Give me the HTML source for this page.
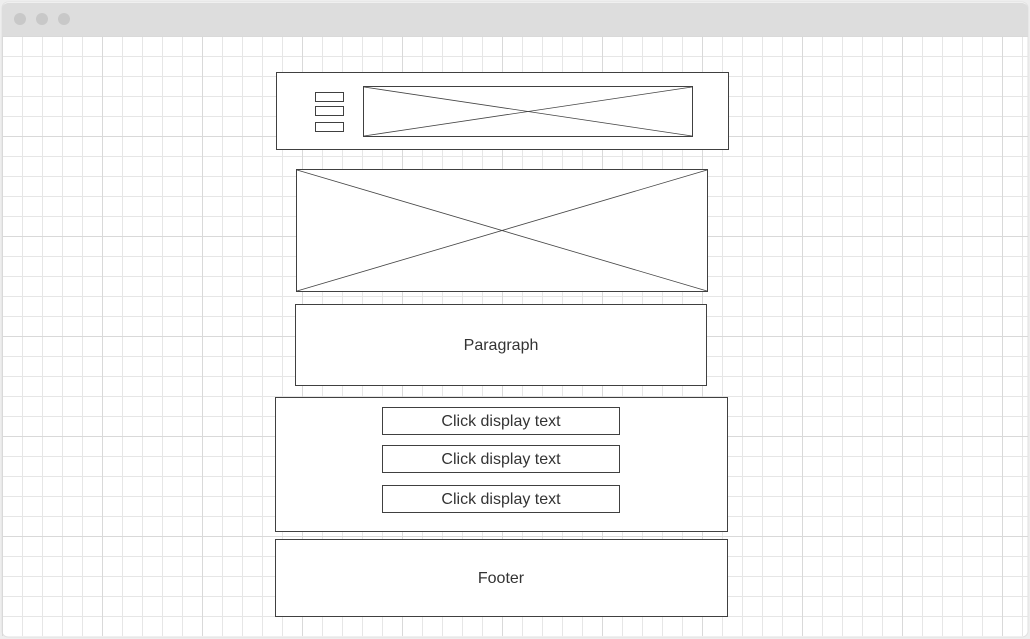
<!DOCTYPE html>
<html><head><meta charset="utf-8"><style>
html,body{margin:0;padding:0;background:#eee;}
svg{display:block;}
text{font-family:"Liberation Sans",sans-serif;font-size:16px;fill:#333;}
</style></head><body>
<svg width="1030" height="639" viewBox="0 0 1030 639">
<defs>
<pattern id="minor" x="2" y="36" width="20" height="20" patternUnits="userSpaceOnUse">
<path d="M0 0.5H20M0.5 0V20" stroke="#e6e6e6" stroke-width="1" fill="none"/>
</pattern>
<pattern id="major" x="2" y="36" width="100" height="100" patternUnits="userSpaceOnUse">
<path d="M0 0.5H100M0.5 0V100" stroke="#d9d9d9" stroke-width="1" fill="none"/>
</pattern>
</defs>
<rect x="2" y="2" width="1026" height="635" rx="6" fill="#fff" stroke="#e2e2e2"/>
<rect x="2" y="36" width="1026" height="600" fill="url(#minor)"/>
<rect x="2" y="36" width="1026" height="600" fill="url(#major)"/>
<path d="M2 36V9a6 6 0 0 1 6-6H1022a6 6 0 0 1 6 6V36Z" fill="#dddddd"/>
<circle cx="20" cy="19" r="6" fill="#c8c8c8"/>
<circle cx="42" cy="19" r="6" fill="#c8c8c8"/>
<circle cx="64" cy="19" r="6" fill="#c8c8c8"/>
<g stroke="#404040" stroke-width="1" fill="#fff" shape-rendering="crispEdges">
<rect x="276.5" y="72.5" width="452" height="77"/>
<rect x="315.5" y="92.5" width="28" height="9"/>
<rect x="315.5" y="106.5" width="28" height="9"/>
<rect x="315.5" y="122.5" width="28" height="9"/>
<rect x="363.5" y="86.5" width="329" height="50"/>
<rect x="296.5" y="169.5" width="411" height="122"/>
<rect x="295.5" y="304.5" width="411" height="81"/>
<rect x="275.5" y="397.5" width="452" height="134"/>
<rect x="382.5" y="407.5" width="237" height="27"/>
<rect x="382.5" y="445.5" width="237" height="27"/>
<rect x="382.5" y="485.5" width="237" height="27"/>
<rect x="275.5" y="539.5" width="452" height="77"/>
</g>
<g stroke="#444" stroke-width="0.8" fill="none">
<path d="M364 87L692 136M364 136L692 87"/>
<path d="M297 170L707 291M297 291L707 170"/>
</g>
<text x="501" y="350" text-anchor="middle">Paragraph</text>
<text x="501" y="426" text-anchor="middle">Click display text</text>
<text x="501" y="464" text-anchor="middle">Click display text</text>
<text x="501" y="504" text-anchor="middle">Click display text</text>
<text x="501" y="583" text-anchor="middle">Footer</text>
</svg>
</body></html>
